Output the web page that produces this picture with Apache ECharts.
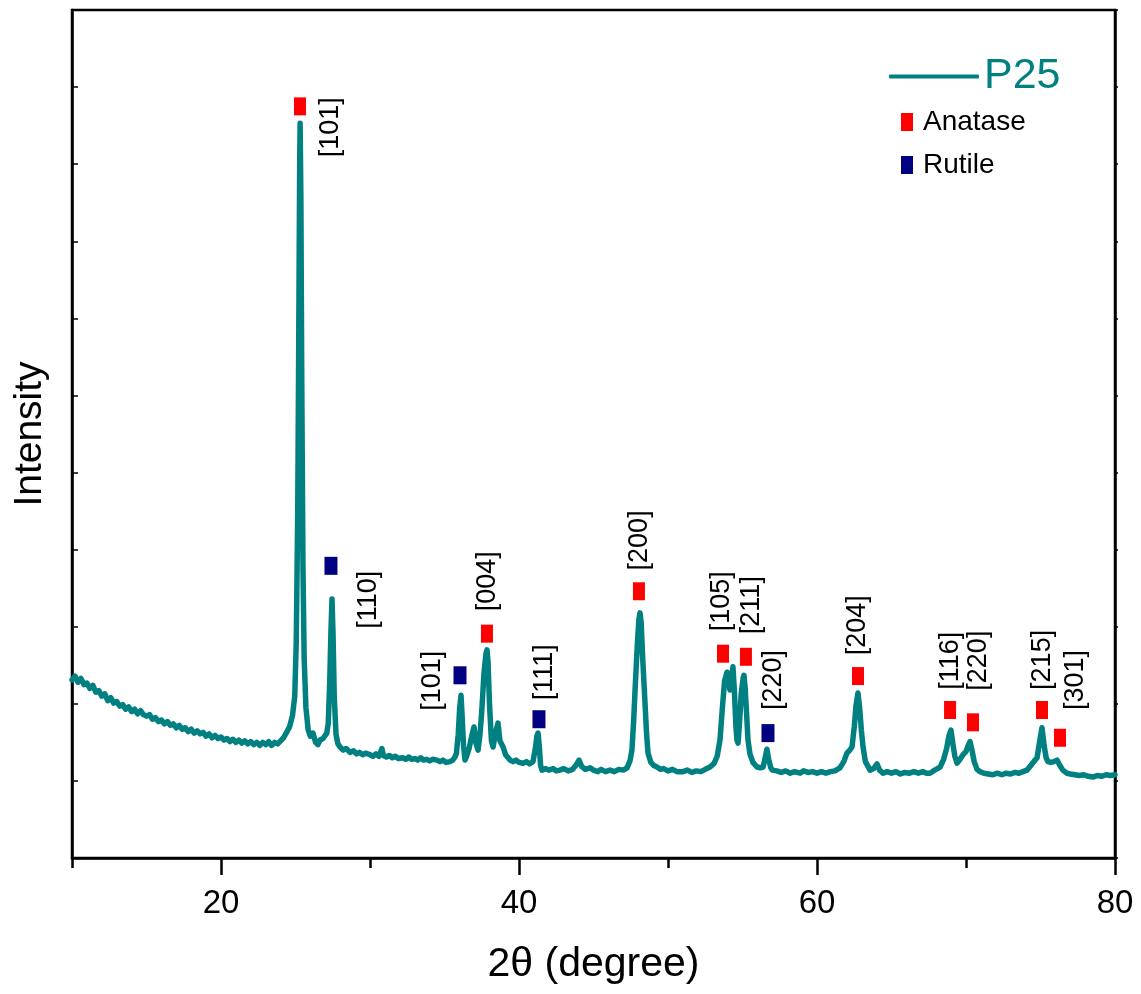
<!DOCTYPE html>
<html>
<head>
<meta charset="utf-8">
<title>P25 XRD</title>
<script src="https://cdn.jsdelivr.net/npm/echarts@6/dist/echarts.min.js"></script>
<style>
  html, body { margin: 0; padding: 0; background: #fff; }
  #chart { width: 1141px; height: 994px; }
</style>
</head>
<body>
<div id="chart"></div>
<script>
  const FONT = '"Liberation Sans", Arial, sans-serif';
  const TEAL = "#008080";

  // 2theta (degree), intensity (a.u.)
  const xrdPattern = [
    [10.0, 2.31], [10.2, 2.36], [10.4, 2.28], [10.6, 2.33], [10.8, 2.25], [11.0, 2.27],
    [11.2, 2.2], [11.4, 2.24], [11.6, 2.15], [11.8, 2.17], [12.0, 2.1], [12.2, 2.13],
    [12.4, 2.04], [12.6, 2.08], [12.8, 2.01], [13.0, 2.03], [13.2, 1.97], [13.4, 1.99],
    [13.6, 1.93], [13.8, 1.96], [14.0, 1.9], [14.2, 1.93], [14.4, 1.87], [14.6, 1.91],
    [14.8, 1.86], [15.0, 1.84], [15.2, 1.86], [15.4, 1.8], [15.6, 1.82], [15.8, 1.77],
    [16.0, 1.79], [16.2, 1.74], [16.4, 1.77], [16.6, 1.72], [16.8, 1.74], [17.0, 1.69],
    [17.2, 1.72], [17.4, 1.67], [17.6, 1.69], [17.8, 1.64], [18.0, 1.67], [18.2, 1.62],
    [18.4, 1.65], [18.6, 1.61], [18.8, 1.63], [19.0, 1.58], [19.2, 1.61], [19.4, 1.56],
    [19.6, 1.59], [19.8, 1.55], [20.0, 1.57], [20.2, 1.53], [20.4, 1.55], [20.6, 1.51],
    [20.8, 1.54], [21.0, 1.5], [21.2, 1.53], [21.4, 1.49], [21.6, 1.52], [21.8, 1.48],
    [22.0, 1.51], [22.2, 1.47], [22.4, 1.5], [22.6, 1.46], [22.8, 1.5], [23.0, 1.47],
    [23.2, 1.51], [23.4, 1.46], [23.6, 1.5], [23.8, 1.48], [24.0, 1.52], [24.2, 1.56],
    [24.4, 1.63], [24.6, 1.7], [24.8, 1.85], [24.95, 2.1], [25.05, 2.8], [25.15, 4.5],
    [25.22, 6.8], [25.28, 9.0], [25.31, 9.53], [25.36, 8.6], [25.42, 6.2], [25.5, 3.8],
    [25.58, 2.6], [25.7, 1.95], [25.85, 1.66], [26.0, 1.58], [26.17, 1.62], [26.35, 1.5],
    [26.5, 1.47], [26.65, 1.53], [26.85, 1.55], [26.98, 1.57], [27.1, 1.62], [27.2, 1.75],
    [27.3, 2.3], [27.38, 2.95], [27.45, 3.36], [27.52, 2.9], [27.6, 2.1], [27.72, 1.6],
    [27.85, 1.48], [27.99, 1.44], [28.2, 1.4], [28.4, 1.42], [28.66, 1.37], [28.9, 1.39],
    [29.1, 1.35], [29.3, 1.37], [29.5, 1.34], [29.7, 1.36], [30.0, 1.34], [30.2, 1.32],
    [30.4, 1.35], [30.6, 1.32], [30.8, 1.42], [30.9, 1.33], [31.1, 1.31], [31.3, 1.33],
    [31.5, 1.3], [31.7, 1.32], [31.9, 1.29], [32.2, 1.3], [32.4, 1.28], [32.6, 1.31],
    [32.8, 1.28], [33.0, 1.29], [33.2, 1.27], [33.4, 1.3], [33.6, 1.27], [33.8, 1.28],
    [34.0, 1.26], [34.2, 1.28], [34.5, 1.27], [34.7, 1.25], [34.9, 1.27], [35.1, 1.24],
    [35.37, 1.25], [35.55, 1.27], [35.7, 1.31], [35.8, 1.36], [35.92, 1.6], [36.02, 1.95],
    [36.11, 2.11], [36.18, 1.85], [36.28, 1.45], [36.38, 1.27], [36.5, 1.33], [36.65, 1.42],
    [36.85, 1.6], [36.98, 1.7], [37.1, 1.5], [37.25, 1.4], [37.38, 1.6], [37.5, 1.9],
    [37.65, 2.4], [37.78, 2.65], [37.85, 2.7], [37.92, 2.55], [38.02, 2.0], [38.15, 1.52],
    [38.26, 1.44], [38.42, 1.62], [38.59, 1.75], [38.72, 1.52], [38.93, 1.44], [39.1, 1.34],
    [39.4, 1.27], [39.6, 1.25], [39.8, 1.27], [40.0, 1.24], [40.27, 1.23], [40.5, 1.25],
    [40.7, 1.22], [40.94, 1.25], [41.12, 1.45], [41.2, 1.58], [41.28, 1.62], [41.36, 1.45],
    [41.45, 1.2], [41.54, 1.14], [41.8, 1.16], [42.0, 1.14], [42.3, 1.16], [42.5, 1.13],
    [42.75, 1.14], [43.0, 1.16], [43.3, 1.13], [43.6, 1.15], [43.85, 1.21], [44.03, 1.27],
    [44.2, 1.19], [44.45, 1.15], [44.77, 1.17], [45.0, 1.14], [45.3, 1.12], [45.5, 1.15],
    [45.8, 1.12], [46.11, 1.14], [46.4, 1.12], [46.7, 1.15], [47.0, 1.14], [47.25, 1.17],
    [47.45, 1.26], [47.58, 1.4], [47.7, 1.8], [47.79, 2.18], [47.95, 2.8], [48.05, 3.1],
    [48.12, 3.18], [48.2, 3.05], [48.3, 2.6], [48.46, 2.0], [48.56, 1.62], [48.66, 1.36],
    [48.85, 1.24], [49.05, 1.2], [49.26, 1.18], [49.5, 1.15], [49.7, 1.16], [50.0, 1.13],
    [50.3, 1.15], [50.6, 1.12], [51.0, 1.12], [51.3, 1.14], [51.6, 1.11], [51.9, 1.13],
    [52.2, 1.12], [52.5, 1.15], [52.82, 1.18], [53.1, 1.23], [53.3, 1.32], [53.49, 1.53],
    [53.65, 1.95], [53.8, 2.3], [53.96, 2.41], [54.08, 2.25], [54.16, 2.18], [54.26, 2.35],
    [54.36, 2.48], [54.46, 2.15], [54.56, 1.7], [54.63, 1.53], [54.7, 1.49], [54.8, 1.75],
    [54.92, 2.15], [55.05, 2.34], [55.1, 2.37], [55.18, 2.2], [55.28, 1.85], [55.37, 1.53],
    [55.5, 1.35], [55.7, 1.24], [55.97, 1.18], [56.2, 1.17], [56.38, 1.18], [56.52, 1.3],
    [56.64, 1.41], [56.76, 1.28], [56.9, 1.17], [57.0, 1.14], [57.3, 1.13], [57.6, 1.11],
    [57.9, 1.13], [58.2, 1.1], [58.5, 1.12], [58.86, 1.1], [59.1, 1.13], [59.4, 1.11],
    [59.7, 1.12], [60.0, 1.1], [60.3, 1.12], [60.6, 1.1], [60.9, 1.12], [61.2, 1.13],
    [61.54, 1.17], [61.8, 1.25], [62.01, 1.36], [62.2, 1.4], [62.35, 1.44], [62.5, 1.7],
    [62.62, 1.98], [62.75, 2.14], [62.86, 1.95], [62.98, 1.65], [63.09, 1.44], [63.25, 1.25],
    [63.56, 1.14], [63.8, 1.16], [64.03, 1.22], [64.2, 1.14], [64.43, 1.1], [64.7, 1.12],
    [65.0, 1.1], [65.3, 1.12], [65.6, 1.09], [65.9, 1.11], [66.2, 1.1], [66.5, 1.12],
    [66.8, 1.1], [67.1, 1.12], [67.35, 1.1], [67.58, 1.1], [67.9, 1.14], [68.26, 1.18],
    [68.5, 1.28], [68.7, 1.42], [68.85, 1.58], [68.99, 1.66], [69.12, 1.48], [69.25, 1.32],
    [69.4, 1.23], [69.6, 1.28], [69.8, 1.34], [70.0, 1.38], [70.15, 1.46], [70.27, 1.51],
    [70.4, 1.4], [70.55, 1.25], [70.74, 1.15], [70.94, 1.12], [71.2, 1.1], [71.5, 1.09],
    [71.81, 1.08], [72.1, 1.1], [72.4, 1.08], [72.7, 1.1], [73.0, 1.09], [73.3, 1.11],
    [73.55, 1.1], [73.82, 1.12], [74.09, 1.14], [74.35, 1.2], [74.55, 1.25], [74.77, 1.3],
    [74.95, 1.52], [75.1, 1.69], [75.25, 1.45], [75.38, 1.3], [75.5, 1.25], [75.7, 1.24],
    [75.9, 1.25], [76.11, 1.27], [76.3, 1.2], [76.5, 1.14], [76.78, 1.1], [77.0, 1.09],
    [77.3, 1.08], [77.6, 1.07], [77.9, 1.08], [78.2, 1.06], [78.52, 1.05], [78.8, 1.07],
    [79.1, 1.06], [79.4, 1.08], [79.7, 1.07], [80.0, 1.08]
  ];

  // phase markers: [2theta, height] and their reflection labels
  const anataseMarks = [
    [25.3, 9.75], [37.85, 2.91], [48.05, 3.46], [53.69, 2.65], [55.23, 2.61],
    [62.75, 2.36], [68.93, 1.92], [70.47, 1.76], [75.1, 1.92], [76.31, 1.56]
  ];
  const anataseHkl = ["[101]", "[004]", "[200]", "[105]", "[211]", "[204]", "[116]", "[220]", "[215]", "[301]"];
  const anataseLabelAt = [
    [27.32, 9.48], [37.92, 3.59], [48.12, 4.12], [53.62, 3.33], [55.64, 3.28],
    [62.75, 3.02], [68.93, 2.56], [70.81, 2.56], [75.17, 2.57], [77.32, 2.31]
  ];
  const rutileMarks = [[27.38, 3.79], [36.04, 2.37], [41.34, 1.8], [56.71, 1.62]];
  const rutileHkl = ["[110]", "[101]", "[111]", "[220]"];
  const rutileLabelAt = [[29.87, 3.35], [34.23, 2.3], [41.74, 2.41], [57.11, 2.31]];

  const majorTicks = [20, 40, 60, 80];

  const hklData = anataseLabelAt.map((p, i) => [p[0], p[1], anataseHkl[i]])
    .concat(rutileLabelAt.map((p, i) => [p[0], p[1], rutileHkl[i]]));

  const chart = echarts.init(document.getElementById("chart"));

  const axisLine = { show: true, lineStyle: { color: "#000", width: 2.5 } };

  chart.setOption({
    animation: false,
    textStyle: { fontFamily: FONT },
    grid: {
      left: 72, right: 26, top: 10, bottom: 136,
      show: true, borderColor: "#000", borderWidth: 2.5, backgroundColor: "transparent",
    },
    legend: [
      {
        data: [{ name: "P25", icon: "roundRect" }],
        left: 884, top: 50,
        itemWidth: 90, itemHeight: 4,
        textStyle: { fontSize: 43, color: TEAL, fontFamily: FONT },
        selectedMode: false,
      },
      {
        data: ["Anatase", "Rutile"],
        orient: "vertical",
        left: 896, top: 102,
        itemWidth: 12, itemHeight: 18, itemGap: 13,
        textStyle: { fontSize: 28, color: "#000", fontFamily: FONT, padding: [0, 0, 0, 5], lineHeight: 30 },
        selectedMode: false,
      },
    ],
    xAxis: [
      {
        type: "value", min: 10, max: 80, position: "bottom",
        name: "2θ (degree)", nameLocation: "middle", nameGap: 86,
        nameTextStyle: { fontSize: 41, color: "#000", fontFamily: FONT },
        axisLine,
        axisTick: { show: true, inside: false, length: 17, customValues: majorTicks, lineStyle: { color: "#000", width: 2.5 } },
        axisLabel: { customValues: majorTicks, fontSize: 33, color: "#000", margin: 29, fontFamily: FONT },
        splitLine: { show: false },
      },
      {
        type: "value", min: 10, max: 80, interval: 20, position: "bottom",
        axisLine: { show: false },
        axisTick: { show: true, inside: false, length: 10, lineStyle: { color: "#000", width: 2.5 } },
        axisLabel: { show: false },
        splitLine: { show: false },
      },
    ],
    yAxis: [
      {
        type: "value", min: 0, max: 11, interval: 1, position: "left",
        name: "Intensity", nameLocation: "middle", nameGap: 22,
        nameTextStyle: { fontSize: 39, color: "#000", fontFamily: FONT },
        axisLine,
        axisTick: { show: true, inside: true, length: 6, lineStyle: { color: "#000", width: 1.5 } },
        axisLabel: { show: false },
        splitLine: { show: false },
      },
      {
        type: "value", min: 0, max: 11, interval: 1, position: "right",
        axisLine,
        axisTick: { show: true, inside: false, length: 3, lineStyle: { color: "#000", width: 1.5 } },
        axisLabel: { show: false },
        splitLine: { show: false },
      },
    ],
    series: [
      {
        name: "P25",
        type: "line",
        data: xrdPattern,
        showSymbol: false,
        color: TEAL,
        lineStyle: { color: TEAL, width: 5.5, join: "round", cap: "round" },
        z: 2,
      },
      {
        name: "Anatase",
        type: "scatter",
        data: anataseMarks,
        symbol: "rect",
        symbolSize: [12, 18],
        itemStyle: { color: "#ff0000", opacity: 1 },
        z: 3,
      },
      {
        name: "Rutile",
        type: "scatter",
        data: rutileMarks,
        symbol: "rect",
        symbolSize: [13, 18],
        itemStyle: { color: "#000080", opacity: 1 },
        z: 3,
      },
      {
        name: "hkl",
        type: "scatter",
        data: hklData,
        symbolSize: 0,
        silent: true,
        itemStyle: { opacity: 1 },
        label: {
          show: true,
          position: "inside",
          rotate: 90,
          formatter: (p) => p.data[2],
          fontSize: 27,
          color: "#000",
          opacity: 1,
          fontFamily: FONT,
        },
        z: 4,
      },
    ],
  });
</script>
</body>
</html>
